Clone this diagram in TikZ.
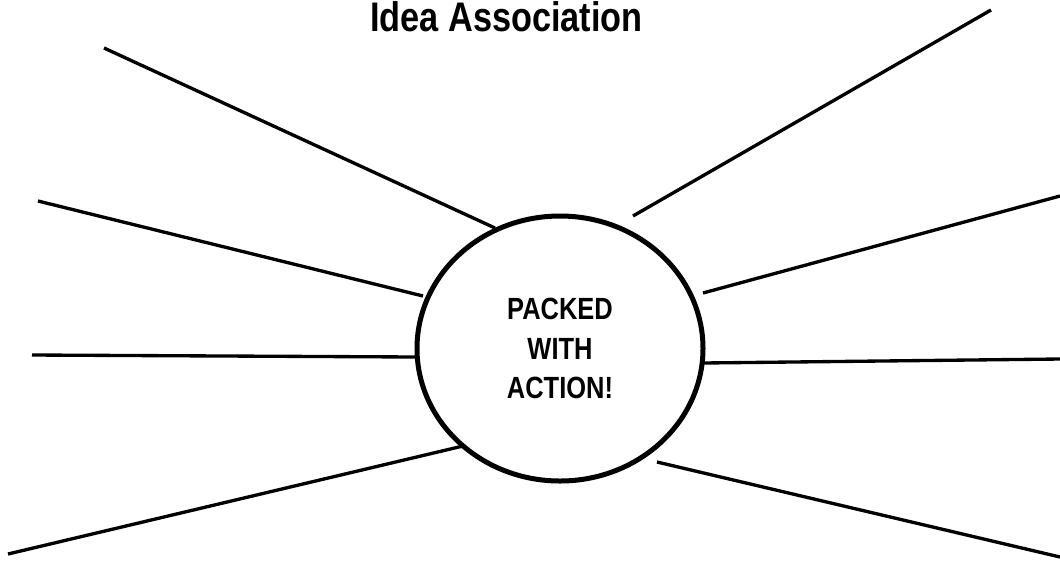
\documentclass[tikz,border=0pt]{standalone}
\usepackage{fontspec}
\newfontfamily\narrowsans[FakeStretch=0.83]{Liberation Sans}
\usetikzlibrary{shapes.geometric}
\definecolor{inkblack}{RGB}{0,0,0}

\begin{document}
\begin{tikzpicture}[x=0.75pt,y=-0.75pt,
    spoke/.style={inkblack,line width=2.5pt},
    hub/.style={ellipse,draw=inkblack,line width=3.75pt,
      minimum width=214.5pt,minimum height=198.75pt,inner sep=0pt,
      align=center,font=\narrowsans\bfseries\fontsize{23}{29.6}\selectfont}]
    \useasboundingbox (0,0) rectangle (1060,562);
    \node[anchor=base,font=\narrowsans\bfseries\fontsize{31}{36}\selectfont]
      (title) at (506.5,31) {Idea Association};
    \node[hub] (core) at (560,348.5) {PACKED\\WITH\\ACTION!};
    % left spokes
    \coordinate (ul-out) at (104,48);  \coordinate (ul-in) at (495,228);
    \coordinate (ml-out) at (38,201);  \coordinate (ml-in) at (423,296);
    \coordinate (hl-out) at (32,355);  \coordinate (hl-in) at (416,357);
    \coordinate (ll-out) at (8,554);   \coordinate (ll-in) at (463,446);
    % right spokes
    \coordinate (ur-out) at (991,10);  \coordinate (ur-in) at (633,216);
    \coordinate (mr-out) at (1060,196); \coordinate (mr-in) at (703,293);
    \coordinate (hr-out) at (1060,359); \coordinate (hr-in) at (703,363);
    \coordinate (lr-out) at (1060,557); \coordinate (lr-in) at (657,462);
    \foreach \s in {ul,ml,hl,ll,ur,mr,hr,lr}
      \draw[spoke] (\s-out) -- (\s-in);
  \end{tikzpicture}
\end{document}
